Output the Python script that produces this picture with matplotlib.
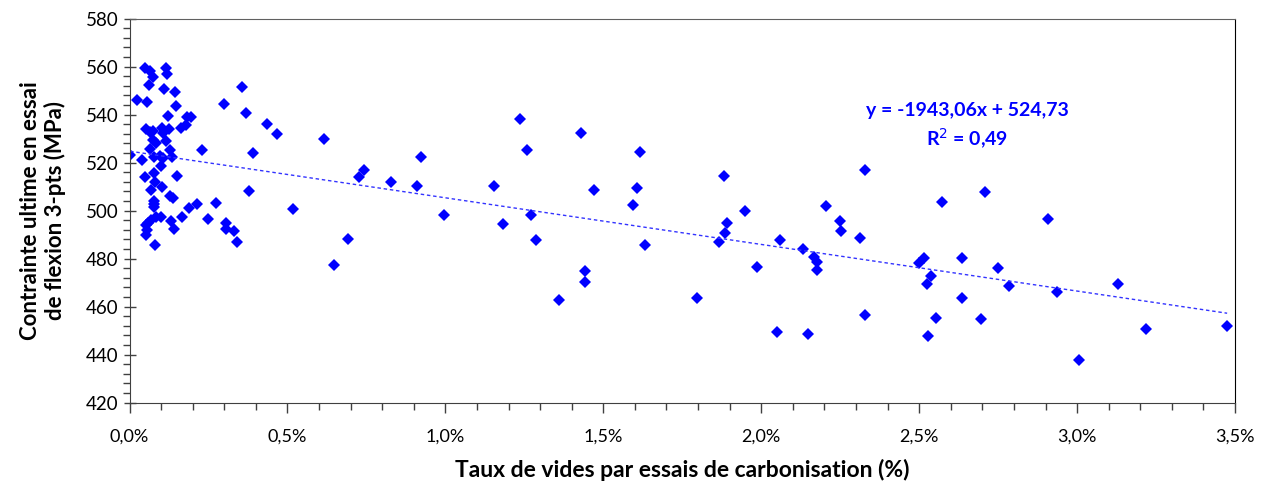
import matplotlib.pyplot as plt
import numpy as np
from matplotlib.ticker import MultipleLocator, FuncFormatter

plt.rcParams['font.family'] = ['Lato', 'DejaVu Sans']

# taux de vides (%) et contrainte ultime (MPa)
taux_vides = [
    0.048, 0.064, 0.074, 0.114, 0.119, 0.061, 0.109, 0.144, 0.355, 0.023,
    0.056, 0.146, 0.300, 0.368, 0.121, 0.183, 0.195, 0.051, 0.074, 0.064,
    0.103, 0.124, 0.163, 0.178, 0.074, 0.083, 0.106, 0.117, 0.064, 0.129,
    0.228, 0.002, 0.039, 0.076, 0.095, 0.106, 0.134, 0.101, 0.077, 0.048,
    0.150, 0.082, 0.104, 0.067, 0.127, 0.138, 0.077, 0.077, 0.077, 0.188,
    0.215, 0.273, 0.379, 0.083, 0.101, 0.069, 0.058, 0.053, 0.055, 0.053,
    0.130, 0.141, 0.165, 0.248, 0.307, 0.307, 0.330, 0.339, 0.082,
    0.434, 0.468, 0.617, 0.392, 0.741, 0.725, 0.829, 0.519, 0.692, 0.646,
    1.235, 1.430, 1.616, 1.258, 0.924, 0.911, 1.154, 1.470, 1.607, 1.595,
    0.996, 1.184, 1.271, 1.286, 1.633, 1.441, 1.441, 1.359, 1.796,
    1.881, 2.327, 1.948, 1.893, 1.885, 1.866, 2.058, 2.205, 2.248, 2.252,
    2.314, 2.572, 2.131, 2.167, 2.175, 2.175, 1.988, 2.514, 2.498, 2.538,
    2.526, 2.637, 2.637, 2.329, 2.552, 2.697, 2.051, 2.149, 2.529, 2.710,
    2.909, 2.750, 2.784, 2.935, 3.128, 3.218, 3.475, 3.006,
]
contrainte = [
    559.5, 558.1, 555.6, 559.5, 556.7, 552.2, 550.8, 549.5, 551.4, 546.2,
    545.2, 543.6, 544.5, 540.6, 539.3, 539.0, 539.0, 533.9, 533.0, 532.7,
    534.2, 533.9, 534.4, 535.5, 529.3, 528.2, 532.1, 528.9, 525.6, 525.4,
    525.1, 523.1, 521.0, 522.1, 522.6, 521.7, 522.1, 518.5, 515.8, 513.9,
    514.5, 512.0, 509.9, 508.5, 506.1, 505.1, 504.1, 502.7, 501.6, 500.9,
    502.7, 503.2, 508.2, 497.2, 497.4, 496.0, 494.9, 494.0, 491.9, 489.8,
    495.6, 492.3, 497.2, 496.3, 494.7, 492.3, 491.6, 487.0, 485.5,
    535.9, 531.7, 529.8, 523.9, 516.8, 514.0, 512.0, 500.5, 488.2, 477.1,
    538.0, 532.1, 524.4, 525.1, 522.2, 510.3, 510.3, 508.6, 509.5, 502.2,
    498.0, 494.5, 498.0, 487.7, 485.7, 474.6, 470.3, 462.7, 463.5,
    514.2, 516.8, 499.7, 494.9, 490.8, 486.8, 487.7, 501.9, 495.6, 491.5,
    488.6, 503.5, 483.9, 480.8, 478.7, 475.3, 476.4, 480.1, 478.1, 472.9,
    469.4, 480.1, 463.5, 456.6, 455.2, 454.9, 449.4, 448.5, 447.6, 507.7,
    496.3, 476.2, 468.6, 466.0, 469.4, 450.6, 452.0, 437.9,
]

# régression linéaire (x en fraction)
pente = -1943.06
ordonnee = 524.73
r2 = 0.49

x = np.array(taux_vides) / 100.0
y = np.array(contrainte)

fig = plt.figure(figsize=(12.61, 4.82), dpi=100)
ax = fig.add_axes([0.1027, 0.1649, 0.8767, 0.7967])

ax.plot(x, y, linestyle='none', marker='D', markersize=6.3,
        color='#0000FF', markeredgewidth=0)

xt = np.array([x.min(), x.max()])
ax.plot(xt, pente * xt + ordonnee, color='#3333FF', lw=1.0,
        linestyle=(0, (2.5, 2)))

eq = 'y = %s x + %s' % (('%.2f' % pente).replace('.', ','),
                        ('%.2f' % ordonnee).replace('.', ','))
eq = eq.replace(' x', 'x')
ax.text(0.02652, 541.8, eq, color='#0000FF',
        fontsize=14, fontweight='bold', ha='center', va='center')
ax.text(0.02652, 529.7, 'R$^{2}$ = ' + ('%.2f' % r2).replace('.', ','),
        color='#0000FF', fontsize=14, fontweight='bold',
        ha='center', va='center')

ax.set_xlim(0, 0.035)
ax.set_ylim(420, 580)
ax.xaxis.set_major_locator(MultipleLocator(0.005))
ax.xaxis.set_minor_locator(MultipleLocator(0.001))
ax.yaxis.set_major_locator(MultipleLocator(20))
ax.yaxis.set_minor_locator(MultipleLocator(4))
ax.xaxis.set_major_formatter(
    FuncFormatter(lambda v, p: ('%.1f%%' % (v * 100)).replace('.', ',')))

ax.tick_params(axis='y', which='major', direction='inout', length=9,
               width=1, labelsize=13.5, color='#404040')
ax.tick_params(axis='y', which='minor', direction='out', length=5,
               width=1, color='#404040')
ax.tick_params(axis='x', which='major', direction='out', length=7,
               width=1, labelsize=13, color='#404040', pad=12)
ax.tick_params(axis='x', which='minor', direction='out', length=5,
               width=1, color='#404040')
for s in ax.spines.values():
    s.set_color('#404040')
ax.spines['top'].set_color('#606060')
ax.spines['right'].set_color('#000000')

ax.set_xlabel('Taux de vides par essais de carbonisation (%)',
              fontsize=16.5, fontweight='bold', labelpad=10)
ax.set_ylabel('Contrainte ultime en essai\nde flexion 3-pts (MPa)',
              fontsize=16, fontweight='bold', labelpad=14)

plt.savefig('out.png', dpi=100)
